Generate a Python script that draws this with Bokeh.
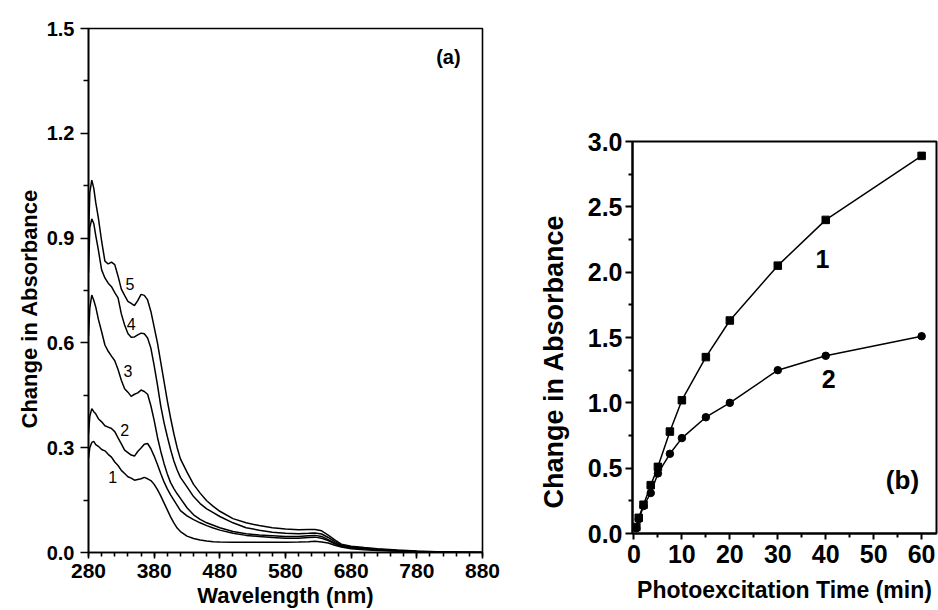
from bokeh.plotting import figure
from bokeh.layouts import row, column
from bokeh.models import Range1d, FixedTicker, PrintfTickFormatter, Label, Title
from bokeh.embed import file_html
from bokeh.resources import INLINE

# ---------------- Panel (a): difference spectra ----------------
wavelength = [280, 282, 285, 288, 291, 295, 300, 305, 310, 315, 320, 325, 330, 335,
              340, 345, 350, 355, 360, 365, 370, 375, 380, 385, 390, 395, 400, 405,
              410, 415, 420, 430, 440, 450, 460, 470, 480, 500, 520, 540, 560, 580,
              600, 615, 625, 635, 645, 655, 665, 680, 700, 720, 750, 780, 810, 850, 880]

curve_1 = [0.270, 0.300, 0.315, 0.318, 0.309, 0.304, 0.295, 0.291, 0.281, 0.273, 0.259, 0.249,
           0.235, 0.226, 0.217, 0.213, 0.207, 0.209, 0.211, 0.215, 0.211, 0.206, 0.195, 0.180,
           0.162, 0.142, 0.122, 0.102, 0.085, 0.070, 0.060, 0.047, 0.040, 0.036, 0.033, 0.031,
           0.030, 0.029, 0.029, 0.029, 0.029, 0.029, 0.030, 0.031, 0.032, 0.030, 0.027, 0.021,
           0.016, 0.011, 0.008, 0.006, 0.004, 0.002, 0.001, 0.000, 0.000]

curve_2 = [0.340, 0.390, 0.412, 0.403, 0.397, 0.383, 0.374, 0.363, 0.359, 0.355, 0.346, 0.328,
           0.311, 0.293, 0.286, 0.279, 0.276, 0.289, 0.299, 0.310, 0.312, 0.297, 0.276, 0.252,
           0.226, 0.202, 0.182, 0.165, 0.150, 0.135, 0.120, 0.105, 0.094, 0.085, 0.077, 0.070,
           0.064, 0.055, 0.049, 0.046, 0.043, 0.041, 0.041, 0.043, 0.044, 0.041, 0.034, 0.025,
           0.018, 0.013, 0.010, 0.007, 0.004, 0.002, 0.001, 0.000, 0.000]

curve_3 = [0.620, 0.700, 0.737, 0.722, 0.703, 0.668, 0.632, 0.594, 0.576, 0.562, 0.549, 0.524,
           0.493, 0.469, 0.459, 0.447, 0.453, 0.457, 0.465, 0.461, 0.453, 0.420, 0.378, 0.330,
           0.290, 0.255, 0.225, 0.200, 0.183, 0.168, 0.155, 0.128, 0.108, 0.095, 0.085, 0.078,
           0.071, 0.060, 0.054, 0.050, 0.048, 0.046, 0.046, 0.048, 0.049, 0.046, 0.037, 0.027,
           0.019, 0.014, 0.011, 0.008, 0.005, 0.003, 0.001, 0.000, 0.000]

curve_4 = [0.800, 0.930, 0.955, 0.942, 0.908, 0.866, 0.809, 0.786, 0.771, 0.761, 0.744, 0.729,
           0.683, 0.651, 0.627, 0.616, 0.617, 0.623, 0.628, 0.626, 0.614, 0.585, 0.535, 0.480,
           0.420, 0.372, 0.332, 0.295, 0.262, 0.236, 0.215, 0.188, 0.160, 0.140, 0.125, 0.114,
           0.103, 0.085, 0.071, 0.064, 0.058, 0.055, 0.054, 0.055, 0.056, 0.053, 0.043, 0.031,
           0.021, 0.016, 0.012, 0.009, 0.006, 0.003, 0.002, 0.001, 0.000]

curve_5 = [0.900, 1.030, 1.066, 1.043, 1.002, 0.958, 0.891, 0.834, 0.826, 0.831, 0.824, 0.791,
           0.754, 0.736, 0.719, 0.713, 0.707, 0.721, 0.739, 0.736, 0.723, 0.690, 0.645, 0.600,
           0.545, 0.490, 0.435, 0.385, 0.340, 0.300, 0.268, 0.230, 0.195, 0.170, 0.148, 0.132,
           0.118, 0.097, 0.085, 0.077, 0.071, 0.067, 0.065, 0.066, 0.066, 0.062, 0.050, 0.036,
           0.024, 0.018, 0.014, 0.011, 0.007, 0.004, 0.002, 0.001, 0.000]

curve_names = ["1", "2", "3", "4", "5"]
curve_label_x = [317, 335, 340, 345, 343]
curve_label_y = [0.216, 0.351, 0.519, 0.654, 0.769]

wl_major = [280, 380, 480, 580, 680, 780, 880]
wl_minor = list(range(280, 881, 20))
abs_major_a = [0.0, 0.3, 0.6, 0.9, 1.2, 1.5]
abs_minor_a = [0.15, 0.45, 0.75, 1.05, 1.35]

# ---------------- Panel (b): kinetics ----------------
time_min = [0.5, 1, 2, 3.5, 5, 7.5, 10, 15, 20, 30, 40, 60]
series_1 = [0.05, 0.12, 0.22, 0.37, 0.51, 0.78, 1.02, 1.35, 1.63, 2.05, 2.40, 2.89]
series_2 = [0.04, 0.11, 0.21, 0.31, 0.46, 0.61, 0.73, 0.89, 1.00, 1.25, 1.36, 1.51]

time_major = [0, 10, 20, 30, 40, 50, 60]
time_minor = [5, 15, 25, 35, 45, 55]
abs_major_b = [0.0, 0.5, 1.0, 1.5, 2.0, 2.5, 3.0]
abs_minor_b = [0.25, 0.75, 1.25, 1.75, 2.25, 2.75]

FONT = "Liberation Sans"


def style_axis(ax, lw, tick_px, title_px, major_out, minor_out, standoff, label_standoff):
    ax.axis_line_color = "black"
    ax.axis_line_width = lw
    ax.major_tick_line_color = "black"
    ax.major_tick_line_width = lw
    ax.minor_tick_line_color = "black"
    ax.minor_tick_line_width = lw
    ax.major_tick_in = 0
    ax.major_tick_out = major_out
    ax.minor_tick_in = 0
    ax.minor_tick_out = minor_out
    ax.major_label_text_font = FONT
    ax.major_label_text_font_style = "bold"
    ax.major_label_text_font_size = f"{tick_px}px"
    ax.major_label_text_color = "black"
    ax.major_label_standoff = standoff
    ax.axis_label_text_font = FONT
    ax.axis_label_text_font_style = "bold"
    ax.axis_label_text_font_size = f"{title_px}px"
    ax.axis_label_text_color = "black"
    ax.axis_label_standoff = label_standoff


# ---- figure a ----
pa = figure(width=518, height=610, output_backend="svg", toolbar_location=None,
            x_range=Range1d(280, 880), y_range=Range1d(0, 1.5),
            min_border_left=88, min_border_right=36, min_border_top=28, min_border_bottom=58)
pa.grid.visible = False
pa.outline_line_color = "black"
pa.outline_line_width = 1.6
pa.background_fill_color = "white"
pa.border_fill_color = "white"

for ys in [curve_1, curve_2, curve_3, curve_4, curve_5]:
    pa.line(wavelength, ys, line_color="black", line_width=1.5)

pa.xaxis.ticker = FixedTicker(ticks=wl_major, minor_ticks=wl_minor)
pa.yaxis.ticker = FixedTicker(ticks=abs_major_a, minor_ticks=abs_minor_a)
pa.yaxis.formatter = PrintfTickFormatter(format="%.1f")
pa.xaxis.axis_label = "Wavelength (nm)"
style_axis(pa.xaxis[0], 1.6, 21, 22, 6, 4, 5, 2)
style_axis(pa.yaxis[0], 1.6, 20, 22, 8, 5, 6, 3)
# y-axis title as a side title, so that it can sit below the frame centre as in the original
pa.add_layout(Title(text="Change in Absorbance", align="left", offset=124, standoff=3,
                    text_font=FONT, text_font_size="22px", text_font_style="bold",
                    text_color="black"), "left")

for name, lx, ly in zip(curve_names, curve_label_x, curve_label_y):
    pa.add_layout(Label(x=lx, y=ly, text=name, text_font=FONT, text_font_size="16px",
                        text_align="center", text_baseline="middle", text_color="black"))
pa.add_layout(Label(x=828, y=1.417, text="(a)", text_font=FONT, text_font_size="20px",
                    text_font_style="bold", text_align="center", text_baseline="middle",
                    text_color="black"))

# ---- figure b ----
pb = figure(width=420, height=610, output_backend="svg", toolbar_location=None,
            x_range=Range1d(-0.3, 63.1), y_range=Range1d(0, 3.0),
            min_border_left=114, min_border_right=2, min_border_top=141, min_border_bottom=77)
pb.grid.visible = False
pb.outline_line_color = "black"
pb.outline_line_width = 2
pb.background_fill_color = "white"
pb.border_fill_color = "white"

pb.line(time_min, series_1, line_color="black", line_width=1.5)
pb.scatter(time_min, series_1, marker="square", size=7.5, color="black")
pb.line(time_min, series_2, line_color="black", line_width=1.5)
pb.scatter(time_min, series_2, marker="circle", size=7.5, color="black")

pb.xaxis.ticker = FixedTicker(ticks=time_major, minor_ticks=time_minor)
pb.yaxis.ticker = FixedTicker(ticks=abs_major_b, minor_ticks=abs_minor_b)
pb.yaxis.formatter = PrintfTickFormatter(format="%.1f")
pb.xaxis.axis_label = "Photoexcitation Time (min)"
style_axis(pb.xaxis[0], 2, 25, 23, 6, 4, 5, 11)
style_axis(pb.yaxis[0], 2, 25, 27, 7, 4, 3, 19)
pb.add_layout(Title(text="Change in Absorbance", align="left", offset=25, standoff=32,
                    text_font=FONT, text_font_size="27px", text_font_style="bold",
                    text_color="black"), "left")

pb.add_layout(Label(x=39.3, y=2.10, text="1", text_font=FONT, text_font_size="25px",
                    text_font_style="bold", text_align="center", text_baseline="middle",
                    text_color="black"))
pb.add_layout(Label(x=40.6, y=1.18, text="2", text_font=FONT, text_font_size="25px",
                    text_font_style="bold", text_align="center", text_baseline="middle",
                    text_color="black"))
pb.add_layout(Label(x=56, y=0.41, text="(b)", text_font=FONT, text_font_size="26px",
                    text_font_style="bold", text_align="center", text_baseline="middle",
                    text_color="black"))

layout = row(column(pa), column(pb))
open("out.html", "w").write(file_html(layout, INLINE))
